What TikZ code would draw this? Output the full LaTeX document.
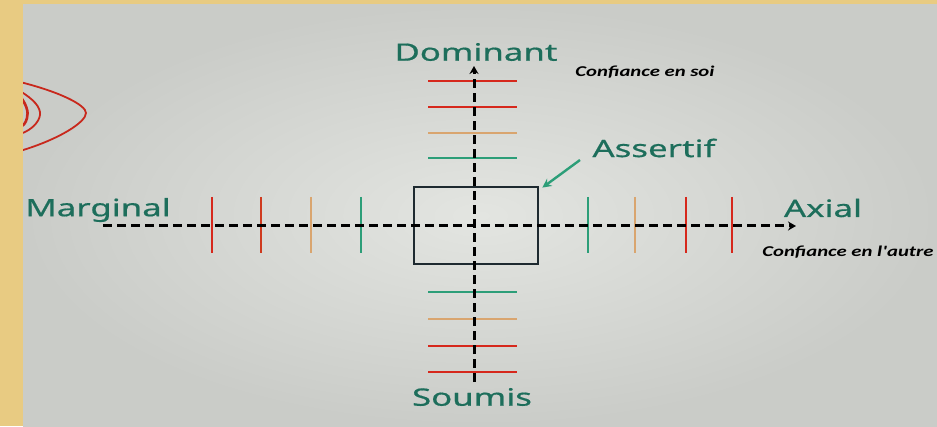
\documentclass[tikz,border=0pt]{standalone}
\usepackage{fontspec}
\usetikzlibrary{arrows.meta}
\newfontfamily\labfont[FakeStretch=1.45, FakeBold=0.6]{Noto Sans}
\newfontfamily\notefont[FakeStretch=1.38]{Carlito}
\definecolor{gold}{HTML}{E8CB82}
\definecolor{slidec}{HTML}{E3E5E1}
\definecolor{slidee}{HTML}{CACCC8}
\definecolor{teal}{HTML}{1D6E5B}
\definecolor{tred}{HTML}{D6281C}
\definecolor{tredo}{HTML}{CF3A1E}
\definecolor{ttan}{HTML}{D9A56F}
\definecolor{tgreen}{HTML}{2C9E78}
\definecolor{boxc}{HTML}{1E2A30}
\definecolor{eyec}{HTML}{C8281C}
\tikzset{
  lab/.style={text=teal, font=\labfont\fontsize{24}{28}\selectfont, inner sep=0pt},
  note/.style={text=black, font=\notefont\bfseries\itshape\fontsize{15}{17}\selectfont, inner sep=0pt},
  axis/.style={line width=3pt, dash pattern=on 9pt off 5pt, -{Stealth[length=8pt,width=9pt]}},
  tick/.style={line width=2.6pt},
  boxst/.style={draw=boxc, line width=2.8pt, minimum width=124pt, minimum height=77pt, inner sep=0pt},
  eye/.style={draw=eyec, line width=1.8pt}
}
\begin{document}
\begin{tikzpicture}[x=1pt,y=1pt]
\useasboundingbox (0,0) rectangle (937,426);
% frame and slide
\fill[gold] (0,0) rectangle (937,426);
\shade[inner color=slidec, outer color=slidee] (23,0) rectangle (937,421);
% eye sketch
\begin{scope}
\clip (23,0) rectangle (937,421);
\draw[eye] (20,344) .. controls (60,334) and (86,321) .. (86,313) .. controls (86,304) and (60,287) .. (20,275);
\draw[eye] (20,335) .. controls (33,327) and (41,319) .. (40,311) .. controls (39,304) and (32,296) .. (20,292);
\draw[eye, line width=2.6pt] (20,330) .. controls (26,322) and (29,314) .. (27,308) .. controls (26,303) and (23,300) .. (20,299);
\end{scope}
% axis end points
\coordinate (vbot) at (474,44);
\coordinate (vtop) at (474,360);
\coordinate (hleft) at (103,200);
\coordinate (hright) at (796,200);
% ticks on vertical axis
\foreach \y/\c in {345/tred, 319/tred, 293/ttan, 268/tgreen, 134/tgreen, 107/ttan, 80/tred, 54/tred}
  \draw[tick, \c] (428,\y) -- (517,\y);
% ticks on horizontal axis
\foreach \x/\c in {212/tred, 261/tredo, 311/ttan, 361/tgreen, 588/tgreen, 635/ttan, 686/tred, 732/tred}
  \draw[tick, \c] (\x,229) -- (\x,173);
% box
\node[boxst] (box) at (476,200.5) {};
% axes
\draw[axis] (vbot) -- (vtop);
\draw[axis] (hleft) -- (hright);
% labels
\node[lab] (dom) at (476,374) {Dominant};
\node[lab] (sou) at (472,29) {Soumis};
\node[lab] (mar) at (98,216) {Marginal};
\node[lab] (axi) at (823,218) {Axial};
\node[lab] (ass) at (654,278) {Assertif};
\node[note] (cs) at (645,354) {Confiance en soi};
\node[note] (ca) at (848,174) {Confiance en l'autre};
% Assertif arrow
\coordinate (astart) at (580,266);
\draw[tgreen, line width=2.4pt, -{Stealth[length=9pt,width=9pt]}] (astart) -- ([shift={(3pt,-2pt)}]box.north east);
\end{tikzpicture}
\end{document}
